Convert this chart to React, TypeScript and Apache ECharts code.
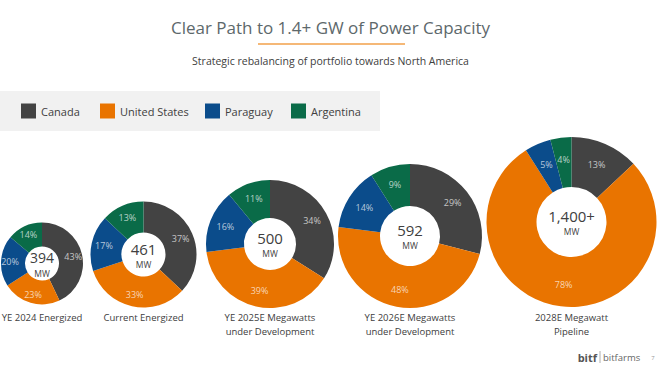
import React, { useEffect, useRef } from "react";
import * as echarts from "echarts";

// ---- data ----
const categories = ["Canada", "United States", "Paraguay", "Argentina"];
const periods = [
  "YE 2024 Energized",
  "Current Energized",
  "YE 2025E Megawatts\nunder Development",
  "YE 2026E Megawatts\nunder Development",
  "2028E Megawatt\nPipeline",
];
const totals = ["394", "461", "500", "592", "1,400+"];
const canada = [43, 37, 34, 29, 13];
const unitedStates = [23, 33, 39, 48, 78];
const paraguay = [20, 17, 16, 14, 5];
const argentina = [14, 13, 11, 9, 4];

// ---- layout / style ----
const colors = ["#434343", "#E97400", "#0B4C8B", "#0A6B48"];
const centers: [number, number][] = [
  [42, 263.5],
  [143.5, 254.5],
  [270, 244],
  [410, 236],
  [571.5, 222],
];
const outerR = [41, 53, 64, 72, 85];
const innerRatio = 0.41;
const totalFont = [14, 15, 15, 15, 15];
const legendLefts = [21, 100, 205, 291];
const FONT = "'Open Sans', 'Noto Sans', sans-serif";

export default function App() {
  const ref = useRef<HTMLDivElement>(null);
  useEffect(() => {
    if (!ref.current) return;
    const chart = echarts.init(ref.current, null, { renderer: "svg" });
    const seriesValues = [canada, unitedStates, paraguay, argentina];

    const series = periods.map((p, i) => ({
      type: "pie",
      name: p,
      center: centers[i],
      radius: [Math.round(outerR[i] * innerRatio), outerR[i]],
      startAngle: 90,
      clockwise: true,
      silent: true,
      label: {
        show: true,
        position: "inside",
        formatter: "{c}%",
        fontSize: 9,
        fontFamily: FONT,
        color: "rgba(255,255,255,0.7)",
      },
      labelLine: { show: false },
      itemStyle: { borderWidth: 0 },
      emphasis: { disabled: true },
      data: categories.map((c, k) => ({
        name: c,
        value: seriesValues[k][i],
        itemStyle: { color: colors[k] },
      })),
    }));

    const graphics: any[] = [
      {
        type: "rect",
        z: -1,
        shape: { x: 0, y: 91, width: 380, height: 40 },
        style: { fill: "#f1f1f1" },
      },
      {
        type: "line",
        shape: { x1: 258, y1: 44, x2: 405, y2: 44 },
        style: { stroke: "#F2A04A", lineWidth: 1.5 },
      },
      {
        type: "text",
        x: 330.5,
        y: 27,
        style: {
          text: "Clear Path to 1.4+ GW of Power Capacity",
          fontSize: 17,
          fontFamily: FONT,
          fill: "#5d686b",
          align: "center",
          verticalAlign: "middle",
        },
      },
      {
        type: "text",
        x: 330.5,
        y: 61,
        style: {
          text: "Strategic rebalancing of portfolio towards North America",
          fontSize: 10.5,
          fontFamily: FONT,
          fill: "#404040",
          align: "center",
          verticalAlign: "middle",
        },
      },
    ];

    periods.forEach((p, i) => {
      const [cx, cy] = centers[i];
      graphics.push({
        type: "text",
        x: cx,
        y: cy - 6,
        style: {
          text: totals[i],
          fontSize: totalFont[i],
          lineHeight: 15,
          fontFamily: FONT,
          fill: "#404040",
          align: "center",
          verticalAlign: "middle",
        },
      });
      graphics.push({
        type: "text",
        x: cx,
        y: cy + 9.5,
        style: {
          text: "MW",
          fontSize: 8.5,
          lineHeight: 9,
          fontFamily: FONT,
          fill: "#404040",
          align: "center",
          verticalAlign: "middle",
        },
      });
      graphics.push({
        type: "text",
        x: cx,
        y: 310,
        style: {
          text: p,
          fontSize: 9.5,
          lineHeight: 14,
          fontFamily: FONT,
          fill: "#404040",
          align: "center",
          verticalAlign: "top",
        },
      });
    });

    // logo
    graphics.push(
      {
        type: "text",
        x: 597,
        y: 357,
        style: {
          text: "bitf",
          fontSize: 11,
          fontWeight: "bold",
          fontFamily: FONT,
          fill: "#555555",
          align: "right",
          verticalAlign: "middle",
        },
      },
      {
        type: "line",
        shape: { x1: 600, y1: 351, x2: 600, y2: 363 },
        style: { stroke: "#999999", lineWidth: 0.8 },
      },
      {
        type: "text",
        x: 603,
        y: 357,
        style: {
          text: "bitfarms",
          fontSize: 9.5,
          fontFamily: FONT,
          fill: "#666666",
          align: "left",
          verticalAlign: "middle",
        },
      },
      {
        type: "text",
        x: 653,
        y: 358,
        style: {
          text: "7",
          fontSize: 6,
          fontFamily: FONT,
          fill: "#999999",
          align: "center",
          verticalAlign: "middle",
        },
      }
    );

    chart.setOption({
      animation: false,
      backgroundColor: "#ffffff",
      legend: categories.map((c, i) => ({
        data: [c],
        left: legendLefts[i],
        top: 103.5,
        padding: 0,
        icon: "rect",
        itemWidth: 15,
        itemHeight: 15,
        selectedMode: false,
        textStyle: { fontSize: 11, color: "#404040", fontFamily: FONT },
      })),
      series,
      graphic: graphics,
    });
    return () => chart.dispose();
  }, []);

  return (
    <div
      ref={ref}
      style={{ position: "fixed", left: 0, top: 0, width: 661, height: 372 }}
    />
  );
}
